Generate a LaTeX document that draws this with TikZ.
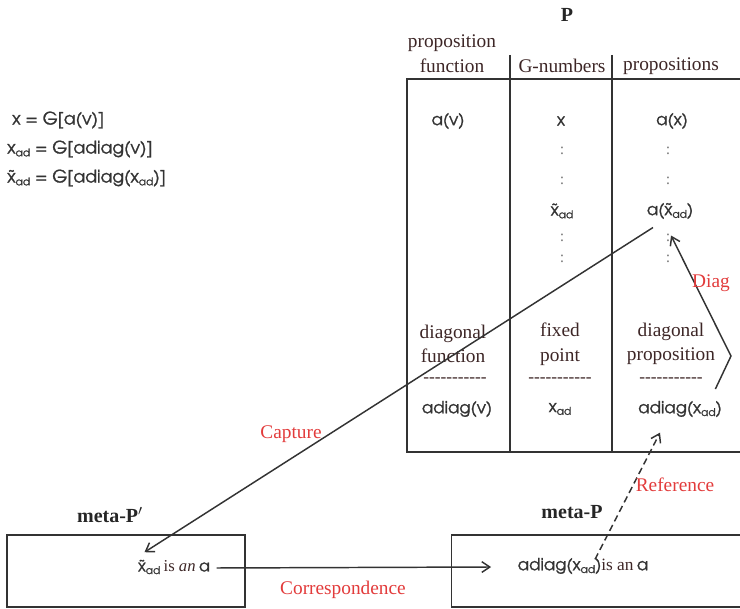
\documentclass[tikz,border=0pt]{standalone}
\usepackage{fontspec}
\setmainfont{Liberation Serif}
\newfontfamily\gothic[FakeBold=1.3]{texgyreadventor-regular.otf}
\usetikzlibrary{arrows.meta}
\definecolor{ink}{HTML}{333333}
\definecolor{hdr}{HTML}{3D2626}
\definecolor{lab}{HTML}{E23B3B}
\newcommand\ad{\raisebox{-0.3ex}{\fontsize{8}{9}\selectfont ad}}
\newcommand\xad{x\ad}
\newcommand\xt{\~{x}\ad}
\newcommand\dashrow{-{}-{}-{}-{}-{}-{}-{}-{}-{}-{}-}
\begin{document}
\begin{tikzpicture}[x=0.75pt,y=-0.75pt,
  serif/.style={font=\fontsize{14.5}{18.5}\selectfont, text=hdr, inner sep=0pt},
  dashes/.style={font=\fontsize{13}{15}\selectfont, text=hdr, inner sep=0pt},
  goth/.style={font=\gothic\fontsize{12.5}{14}\selectfont, text=ink, inner sep=1pt},
  formula/.style={font=\gothic\fontsize{13}{15}\selectfont, text=ink, inner sep=0pt, anchor=west},
  redlab/.style={font=\fontsize{14.5}{17}\selectfont, text=lab, inner sep=0pt},
  ttl/.style={font=\bfseries\fontsize{15}{18}\selectfont, text=black!85, inner sep=0pt},
  dotcol/.style={font=\fontsize{12}{12}\selectfont, text=gray, inner sep=0pt},
  frame/.style={draw=ink, line width=1.1pt},
  boxed/.style={draw=ink, line width=1.1pt, inner sep=0pt},
  conn/.style={draw=ink, line width=1.1pt, -{Straight Barb[length=6pt,width=8pt]}},
]
\useasboundingbox (0,0) rectangle (740,609);

% table P
\node[ttl] (P) at (567,15) {P};
\node[serif, align=center] (h1) at (452,54) {proposition\\function};
\node[serif] (h2) at (562,66) {G-numbers};
\node[serif] (h3) at (671,66) {propositions};
\draw[frame] (745,79) -- (407,79) -- (407,452) -- (745,452);
\draw[frame] (510,55) -- (510,452);
\draw[frame] (612,55) -- (612,452);

\node[goth] (av) at (448,121) {a(v)};
\node[goth] (x) at (561,121) {x};
\node[goth] (ax) at (672,121) {a(x)};

\node[dotcol] (d21) at (562,151) {:};
\node[dotcol] (d22) at (562,181) {:};
\node[goth] (xt) at (562,211) {\xt};
\node[dotcol] (d23) at (562,238) {:};
\node[dotcol] (d24) at (562,259) {:};
\node[dotcol] (d31) at (668,151) {:};
\node[dotcol] (d32) at (668,181) {:};
\node[goth] (axt) at (670,211) {a(\xt)};
\node[dotcol] (d33) at (668,238) {:};
\node[dotcol] (d34) at (668,259) {:};

\node[serif, align=center] (df) at (453,344) {diagonal\\function};
\node[dashes] (r1) at (455,380) {\dashrow};
\node[goth] (adv) at (457,409) {adiag(v)};
\node[serif, align=center] (fp) at (560,344) {fixed\\point};
\node[dashes] (r2) at (560,380) {\dashrow};
\node[goth] (xad) at (560,409) {\xad};
\node[serif, align=center] (dp) at (671,344) {diagonal\\proposition};
\node[dashes] (r3) at (671,380) {\dashrow};
\node[goth] (adx) at (680,409) {adiag(\xad)};

% formulas
\node[formula] (f1) at (12,120) {x = G[a(v)]};
\node[formula] (f2) at (7,149) {\xad{} = G[adiag(v)]};
\node[formula] (f3) at (7,178) {\xt{} = G[adiag(\xad)]};

% meta boxes
\node[ttl] (mp1) at (110,515) {meta-P$'$};
\node[boxed, minimum width=178.5pt, minimum height=54pt] (lbox) at (126,571) {};
\node[inner sep=1pt] (lt) at (174,567) {{\gothic\fontsize{12}{14}\selectfont\color{ink}\xt} {\fontsize{12.5}{15}\selectfont\color{hdr}is \textit{an}} {\gothic\fontsize{12}{14}\selectfont\color{ink}a}};
\node[ttl] (mp) at (572,512) {meta-P};
\node[boxed, minimum width=221pt, minimum height=54pt] (rbox) at (599,571) {};
\node[inner sep=1pt] (rt) at (583,566) {{\gothic\fontsize{12.5}{14}\selectfont\color{ink}adiag(\xad)}{\fontsize{13}{15}\selectfont\color{hdr} is an} {\gothic\fontsize{12.5}{14}\selectfont\color{ink}a}};

% connectors
\coordinate (bend) at (731,356);
\draw[conn] ([shift={(-17,7)}]axt.south) -- ([shift={(8,-6)}]lt.north west);
\draw[conn] ([shift={(-8,-20)}]adx.east) -- (bend) -- ([shift={(1,15)}]axt.south);
\draw[conn, dash pattern=on 5pt off 3pt] ([shift={(12,3)}]rt.north) -- ([shift={(-20,14)}]adx.south);
\draw[conn] ([shift={(5,1)}]lt.east) -- ([shift={(-25,1)}]rt.west);

\node[redlab] (lcap) at (291,434) {Capture};
\node[redlab] (ldiag) at (711,283) {Diag};
\node[redlab] (lref) at (675,485) {Reference};
\node[redlab] (lcor) at (343,590) {Correspondence};
\end{tikzpicture}
\end{document}
